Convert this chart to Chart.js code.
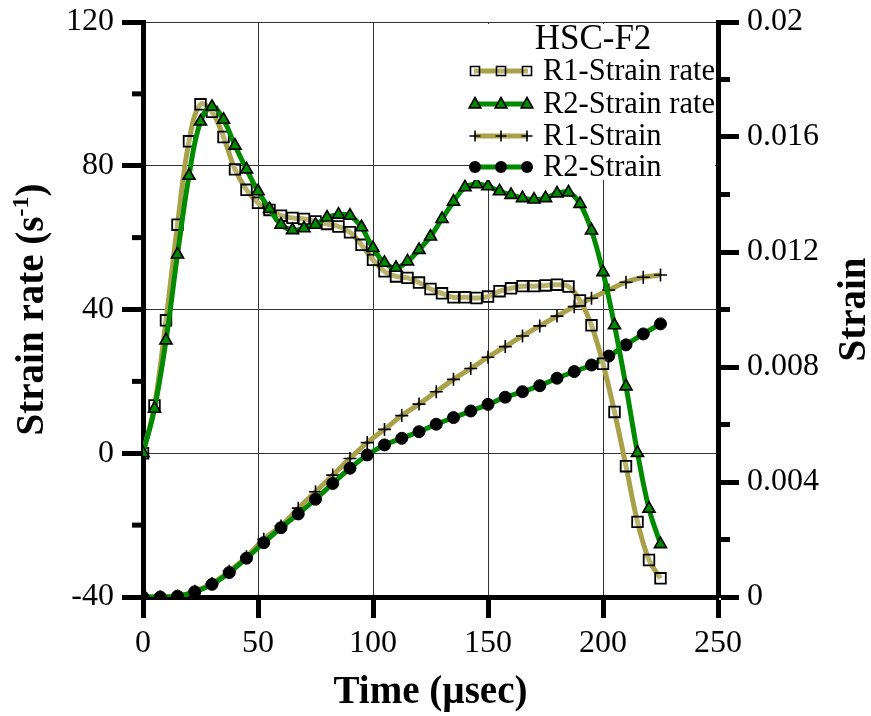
<!DOCTYPE html>
<html>
<head>
<meta charset="utf-8">
<script src="https://cdn.jsdelivr.net/npm/chart.js@4.4.1/dist/chart.umd.min.js"></script>
<style>
    html, body { margin: 0; padding: 0; background: #fff; }
    #wrap { width: 871px; height: 716px; }
</style>
</head>
<body>
<div id="wrap"><canvas id="chart" width="871" height="716"></canvas></div>
<script>
const rateTime = [0, 5, 10, 15, 20, 25, 30, 35, 40, 45, 50, 55, 60, 65, 70, 75, 80, 85, 90, 95,
    100, 105, 110, 115, 120, 125, 130, 135, 140, 145, 150, 155, 160, 165, 170, 175, 180, 185, 190, 195,
    200, 205, 210, 215, 220, 225];
const r1Rate = [0, 13.3, 37, 63.6, 86.8, 97.1, 95, 88, 79, 73.3, 69.7, 67.7, 66.1, 65.5, 65.2, 64.5, 63.8, 63.1, 61.5, 58,
    53.8, 50.6, 49.2, 48.8, 47.5, 45.7, 44.5, 43.4, 43.4, 43.2, 43.6, 45.1, 45.9, 46.5, 46.5, 46.7, 46.9, 46.4, 42.5, 35.6,
    24.9, 11.5, -3.6, -19.1, -29.7, -34.8];
const r2Rate = [0, 12.4, 31.4, 55.3, 77.2, 92.3, 96.4, 92.8, 85.6, 79, 72.9, 68, 63.6, 62.1, 62.6, 63.6, 65.6, 66.4, 66.1, 62.9,
    57.1, 53, 51.6, 53.4, 56.6, 60.3, 65.2, 70, 74, 74.9, 74.3, 72.9, 71.9, 71, 70.6, 71, 72.3, 72.6, 69.4, 62,
    50.4, 35.6, 18.6, 0.1, -15.4, -25.3];

const strainTime = [0, 7.5, 15, 22.5, 30, 37.5, 45, 52.5, 60, 67.5, 75, 82.5, 90, 97.5, 105, 112.5,
    120, 127.5, 135, 142.5, 150, 157.5, 165, 172.5, 180, 187.5, 195, 202.5, 210, 217.5, 225];
const r1Strain = [0, 0, 0.00003, 0.0002, 0.00047, 0.0009, 0.0014, 0.00201, 0.00247, 0.00309, 0.00366, 0.00424, 0.00482,
    0.00537, 0.00583, 0.00631, 0.00671, 0.00714, 0.00757, 0.00795, 0.00834, 0.00871, 0.00908, 0.00943, 0.00977,
    0.0101, 0.01039, 0.01068, 0.01095, 0.01112, 0.0112];
const r2Strain = [0, 0, 0.00003, 0.00018, 0.00044, 0.00085, 0.00135, 0.00189, 0.00241, 0.00289, 0.0034, 0.00395, 0.00448,
    0.00494, 0.00529, 0.00552, 0.00575, 0.00601, 0.00624, 0.00647, 0.0067, 0.00695, 0.00714, 0.00735, 0.00761,
    0.00784, 0.00807, 0.00838, 0.00877, 0.00915, 0.0095];

// Marcas de ejes
const timeTicks = [0, 50, 100, 150, 200, 250];
const rateTicks = [-40, 0, 40, 80, 120];
const rateMinor = [-20, 20, 60, 100];
const strainTicks = [0, 0.004, 0.008, 0.012, 0.016, 0.02];
const strainMinor = [0.002, 0.006, 0.01, 0.014, 0.018];

const FONT = '"Liberation Serif", "Times New Roman", serif';
const OLIVE = '#a8a14a';
const GREEN = '#008a00';

const toPoints = (xs, ys) => xs.map((x, i) => ({ x: x, y: ys[i] }));

// ============================================
// Marcadores (leyenda)
// ============================================
function drawMarker(ctx, style, x, y, r) {
    ctx.save();
    ctx.strokeStyle = '#000';
    ctx.lineWidth = 1.6;
    ctx.beginPath();
    if (style === 'rect') {
        ctx.rect(x - r, y - r, 2 * r, 2 * r);
        ctx.fillStyle = 'rgba(255,255,255,0.2)';
        ctx.fill();
        ctx.stroke();
    } else if (style === 'triangle') {
        ctx.moveTo(x, y - r);
        ctx.lineTo(x + r * 0.9, y + r * 0.6);
        ctx.lineTo(x - r * 0.9, y + r * 0.6);
        ctx.closePath();
        ctx.fillStyle = GREEN;
        ctx.fill();
        ctx.stroke();
    } else if (style === 'cross') {
        ctx.moveTo(x - r, y); ctx.lineTo(x + r, y);
        ctx.moveTo(x, y - r); ctx.lineTo(x, y + r);
        ctx.stroke();
    } else {
        ctx.arc(x, y, r, 0, Math.PI * 2);
        ctx.fillStyle = '#000';
        ctx.fill();
    }
    ctx.restore();
}

// ============================================
// Plugin: títulos, marcas menores y leyenda
// ============================================
const decorPlugin = {
    id: 'decor',
    afterDraw(chart) {
        const ctx = chart.ctx;
        const area = chart.chartArea;
        const sy = chart.scales.y;
        const sy1 = chart.scales.y1;
        ctx.save();

        // marcas menores
        ctx.strokeStyle = '#000';
        ctx.lineWidth = 5;
        rateMinor.forEach(v => {
            const py = sy.getPixelForValue(v);
            ctx.beginPath(); ctx.moveTo(area.left - 11, py); ctx.lineTo(area.left, py); ctx.stroke();
        });
        strainMinor.forEach(v => {
            const py = sy1.getPixelForValue(v);
            ctx.beginPath(); ctx.moveTo(area.right, py); ctx.lineTo(area.right + 12, py); ctx.stroke();
        });

        // títulos de ejes
        ctx.fillStyle = '#000';
        ctx.textBaseline = 'alphabetic';
        ctx.font = 'bold 39px ' + FONT;
        ctx.textAlign = 'center';
        ctx.fillText('Time (\u00b5sec)', (area.left + area.right) / 2, 703);

        const cy = (area.top + area.bottom) / 2;
        // eje izquierdo con superíndice
        ctx.save();
        ctx.translate(43, cy);
        ctx.rotate(-Math.PI / 2);
        ctx.textAlign = 'left';
        ctx.font = 'bold 39px ' + FONT;
        const w1 = ctx.measureText('Strain rate (s').width;
        const w3 = ctx.measureText(')').width;
        ctx.font = 'bold 24px ' + FONT;
        const w2 = ctx.measureText('-1').width;
        let x0 = -(w1 + w2 + w3) / 2;
        ctx.font = 'bold 39px ' + FONT;
        ctx.fillText('Strain rate (s', x0, 0);
        ctx.font = 'bold 24px ' + FONT;
        ctx.fillText('-1', x0 + w1, -15);
        ctx.font = 'bold 39px ' + FONT;
        ctx.fillText(')', x0 + w1 + w2, 0);
        ctx.restore();

        // eje derecho
        ctx.save();
        ctx.translate(865, cy);
        ctx.rotate(-Math.PI / 2);
        ctx.textAlign = 'center';
        ctx.font = 'bold 39px ' + FONT;
        ctx.fillText('Strain', 0, 0);
        ctx.restore();

        // leyenda
        const lx = 470;
        ctx.fillStyle = '#fff';
        ctx.fillRect(lx, area.top + 2, area.right - 3 - lx, 156);
        ctx.fillStyle = '#000';
        ctx.textAlign = 'center';
        ctx.textBaseline = 'middle';
        ctx.font = '35px ' + FONT;
        ctx.fillText('HSC-F2', 593, 40);

        const rows = [71, 104, 136, 167];
        const legendSizes = { rect: 4.5, triangle: 6.5, cross: 5.5, circle: 6 };
        chart.data.datasets.forEach(ds => {
            const ry = rows[ds.legendRow];
            ctx.strokeStyle = ds.borderColor;
            ctx.lineWidth = 5;
            ctx.beginPath(); ctx.moveTo(474, ry); ctx.lineTo(528, ry); ctx.stroke();
            [475, 501, 527].forEach(mx => drawMarker(ctx, ds.pointStyle, mx, ry, legendSizes[ds.pointStyle]));
            ctx.fillStyle = '#000';
            ctx.textAlign = 'left';
            ctx.font = '30.5px ' + FONT;
            ctx.fillText(ds.label, 543, ry + 1);
        });
        ctx.restore();
    }
};

// ============================================
// Gráfico
// ============================================
const tickFont = { family: FONT, size: 32 };
const noVertPad = s => { s.paddingTop = 0; s.paddingBottom = 0; };

new Chart(document.getElementById('chart'), {
    type: 'line',
    data: {
        datasets: [
            {
                label: 'R2-Strain rate', legendRow: 1,
                data: toPoints(rateTime, r2Rate), yAxisID: 'y',
                borderColor: GREEN, borderWidth: 5, tension: 0.4,
                pointStyle: 'triangle', pointRadius: 7, pointBackgroundColor: GREEN,
                pointBorderColor: '#000', pointBorderWidth: 1.6
            },
            {
                label: 'R1-Strain rate', legendRow: 0,
                data: toPoints(rateTime, r1Rate), yAxisID: 'y',
                borderColor: OLIVE, borderWidth: 5, tension: 0.4,
                pointStyle: 'rect', pointRadius: 7.5, pointBackgroundColor: 'rgba(255,255,255,0.2)',
                pointBorderColor: '#000', pointBorderWidth: 1.8
            },
            {
                label: 'R2-Strain', legendRow: 3,
                data: toPoints(strainTime, r2Strain), yAxisID: 'y1',
                borderColor: GREEN, borderWidth: 5, tension: 0.4,
                pointStyle: 'circle', pointRadius: 6, pointBackgroundColor: '#000',
                pointBorderColor: '#000', pointBorderWidth: 1
            },
            {
                label: 'R1-Strain', legendRow: 2,
                data: toPoints(strainTime, r1Strain), yAxisID: 'y1',
                borderColor: OLIVE, borderWidth: 5, tension: 0.4,
                pointStyle: 'cross', pointRadius: 6.5, pointBackgroundColor: '#000',
                pointBorderColor: '#000', pointBorderWidth: 1.6
            }
        ]
    },
    options: {
        responsive: false,
        animation: false,
        layout: { padding: { top: 22, left: 0, right: 0, bottom: 0 } },
        plugins: {
            legend: { display: false },
            tooltip: { enabled: false }
        },
        scales: {
            x: {
                type: 'linear', min: 0, max: 250,
                afterBuildTicks: s => { s.ticks = timeTicks.map(v => ({ value: v })); },
                afterFit: s => { s.height = 119; },
                grid: { color: '#333', lineWidth: 1, tickLength: 21, tickWidth: 5, tickColor: '#000' },
                border: { display: true, color: '#000', width: 5 },
                ticks: { font: tickFont, color: '#000', padding: 6, maxRotation: 0 }
            },
            y: {
                position: 'left', min: -40, max: 120,
                afterBuildTicks: s => { s.ticks = rateTicks.map(v => ({ value: v })); },
                afterFit: s => { s.width = 143; noVertPad(s); },
                grid: { color: '#333', lineWidth: 1, tickLength: 21, tickWidth: 5, tickColor: '#000' },
                border: { display: true, color: '#000', width: 5 },
                ticks: { font: tickFont, color: '#000', padding: 8 }
            },
            y1: {
                position: 'right', min: 0, max: 0.02,
                afterBuildTicks: s => { s.ticks = strainTicks.map(v => ({ value: v })); },
                afterFit: s => { s.width = 153; noVertPad(s); },
                grid: { drawOnChartArea: false, tickLength: 21, tickWidth: 5, tickColor: '#000' },
                border: { display: true, color: '#000', width: 5 },
                ticks: {
                    font: tickFont, color: '#000', padding: 8,
                    callback: v => (v === 0 ? '0' : String(parseFloat(v.toFixed(3))))
                }
            }
        }
    },
    plugins: [decorPlugin]
});
</script>
</body>
</html>
